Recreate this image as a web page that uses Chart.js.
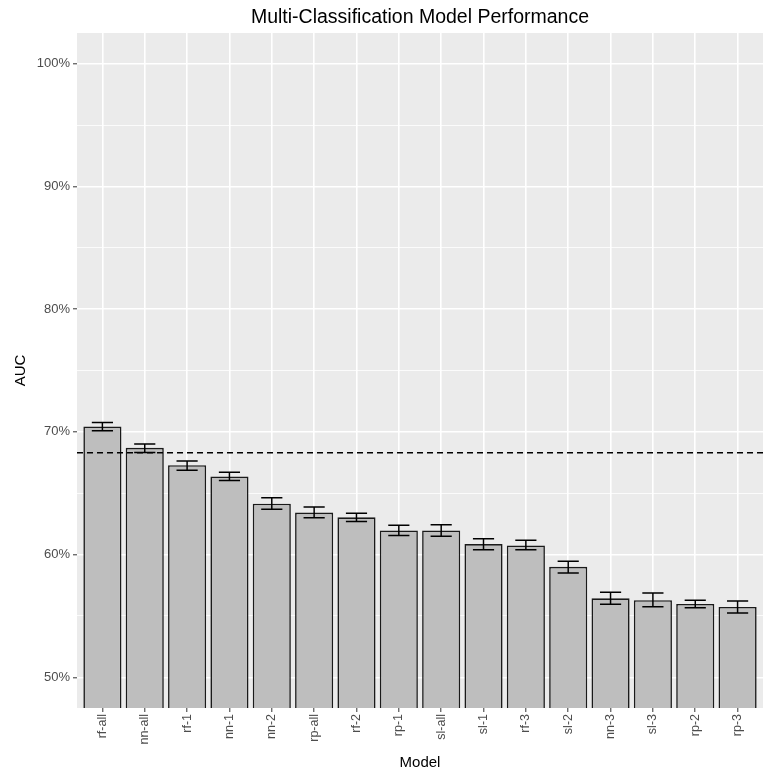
<!DOCTYPE html>
<html>
<head>
<meta charset="utf-8">
<script src="https://cdn.jsdelivr.net/npm/chart.js@4.4.1/dist/chart.umd.min.js"></script>
<style>
  html, body { margin: 0; padding: 0; background: #fff; }
  #wrap { width: 763px; height: 779px; }
</style>
</head>
<body>
<div id="wrap"><canvas id="chart"></canvas></div>
<script>
const models = ['rf-all', 'nn-all', 'rf-1', 'nn-1', 'nn-2', 'rp-all', 'rf-2', 'rp-1',
                'sl-all', 'sl-1', 'rf-3', 'sl-2', 'nn-3', 'sl-3', 'rp-2', 'rp-3']
const auc   = [70.43, 68.70, 67.28, 66.36, 64.15, 63.42, 63.04, 61.97,
               61.97, 60.86, 60.75, 59.00, 56.44, 56.28, 55.98, 55.73]
const lower = [70.10, 68.31, 66.88, 66.03, 63.70, 63.01, 62.69, 61.56,
               61.50, 60.40, 60.40, 58.51, 55.95, 55.76, 55.67, 55.24]
const upper = [70.76, 69.02, 67.63, 66.71, 64.64, 63.88, 63.37, 62.40,
               62.43, 61.30, 61.16, 59.46, 56.93, 56.87, 56.28, 56.22]
const yTicks = [50, 55, 60, 65, 70, 75, 80, 85, 90, 95, 100]
const refLine = 68.3

const panelBg  = '#EBEBEB'
const gridCol  = '#FFFFFF'
const tickText = '#4D4D4D'
const fontFam  = '"Liberation Sans", Arial, sans-serif'

// ── panel background + title ──
const panelPlugin = {
  id: 'panel',
  beforeDraw(chart) {
    const { ctx, chartArea: a } = chart
    ctx.save()
    ctx.fillStyle = '#fff'
    ctx.fillRect(0, 0, chart.width, chart.height)
    ctx.fillStyle = panelBg
    ctx.fillRect(a.left, a.top, a.right - a.left, a.bottom - a.top)
    ctx.fillStyle = '#000'
    ctx.font = '19.5px ' + fontFam
    ctx.textAlign = 'center'
    ctx.textBaseline = 'alphabetic'
    ctx.fillText('Multi-Classification Model Performance', (a.left + a.right) / 2, 23)
    ctx.restore()
  }
}

// ── error bars + dashed reference line ──
const errPlugin = {
  id: 'errbars',
  afterDatasetsDraw(chart) {
    const { ctx, chartArea: a, scales: { x, y } } = chart
    const half = (x.getPixelForValue(1.25) - x.getPixelForValue(1))
    ctx.save()
    ctx.beginPath()
    ctx.rect(a.left, a.top, a.right - a.left, a.bottom - a.top)
    ctx.clip()
    ctx.strokeStyle = '#000'
    ctx.lineWidth = 1.5
    auc.forEach((v, i) => {
      const px = x.getPixelForValue(i + 1)
      const lo = y.getPixelForValue(lower[i])
      const hi = y.getPixelForValue(upper[i])
      ctx.beginPath()
      ctx.moveTo(px, lo); ctx.lineTo(px, hi)
      ctx.moveTo(px - half, lo); ctx.lineTo(px + half, lo)
      ctx.moveTo(px - half, hi); ctx.lineTo(px + half, hi)
      ctx.stroke()
    })
    const ry = y.getPixelForValue(refLine)
    ctx.setLineDash([6, 4])
    ctx.lineWidth = 1.3
    ctx.beginPath()
    ctx.moveTo(a.left, ry); ctx.lineTo(a.right, ry)
    ctx.stroke()
    ctx.restore()
  }
}

new Chart(document.getElementById('chart'), {
  type: 'bar',
  data: {
    datasets: [{
      label: 'AUC',
      data: auc.map((v, i) => ({ x: i + 1, y: v })),
      backgroundColor: '#BEBEBE',
      borderColor: '#1A1A1A',
      borderWidth: 1.6,
      borderSkipped: 'start',
      barPercentage: 0.9,
      categoryPercentage: 1.0
    }]
  },
  options: {
    responsive: true,
    maintainAspectRatio: false,
    animation: false,
    layout: { padding: { top: 33, right: 0, left: 0, bottom: 0 } },
    plugins: {
      legend: { display: false },
      tooltip: { enabled: false }
    },
    scales: {
      x: {
        type: 'linear',
        min: 0.4,
        max: 16.6,
        offset: false,
        afterBuildTicks: s => { s.ticks = models.map((m, i) => ({ value: i + 1 })) },
        afterFit: s => { s.height = 71 },
        border: { display: false },
        grid: { offset: false, color: gridCol, lineWidth: 1.6, tickColor: '#333', tickLength: 4, tickWidth: 1 },
        ticks: {
          autoSkip: false,
          minRotation: 90,
          maxRotation: 90,
          padding: 2,
          color: tickText,
          font: { family: fontFam, size: 12.5 },
          callback: v => models[v - 1]
        },
        title: {
          display: true,
          text: 'Model',
          color: '#000',
          font: { family: fontFam, size: 15 },
          padding: { top: 0, bottom: 7 }
        }
      },
      y: {
        min: 47.5,
        max: 102.5,
        afterBuildTicks: s => { s.ticks = yTicks.map(v => ({ value: v })) },
        afterFit: s => { s.width = 77 },
        border: { display: false },
        grid: {
          color: gridCol,
          lineWidth: c => (c.tick && c.tick.value % 10 === 0) ? 1.6 : 0.8,
          tickColor: c => (c.tick && c.tick.value % 10 === 0) ? '#333' : 'rgba(0,0,0,0)',
          tickLength: 4,
          tickWidth: 1
        },
        ticks: {
          padding: 3,
          color: tickText,
          font: { family: fontFam, size: 13 },
          callback: v => (v % 10 === 0) ? v + '%' : ''
        },
        title: {
          display: true,
          text: 'AUC',
          color: '#000',
          font: { family: fontFam, size: 15 },
          padding: { top: 12, bottom: 0 }
        }
      }
    }
  },
  plugins: [panelPlugin, errPlugin]
})
</script>
</body>
</html>
